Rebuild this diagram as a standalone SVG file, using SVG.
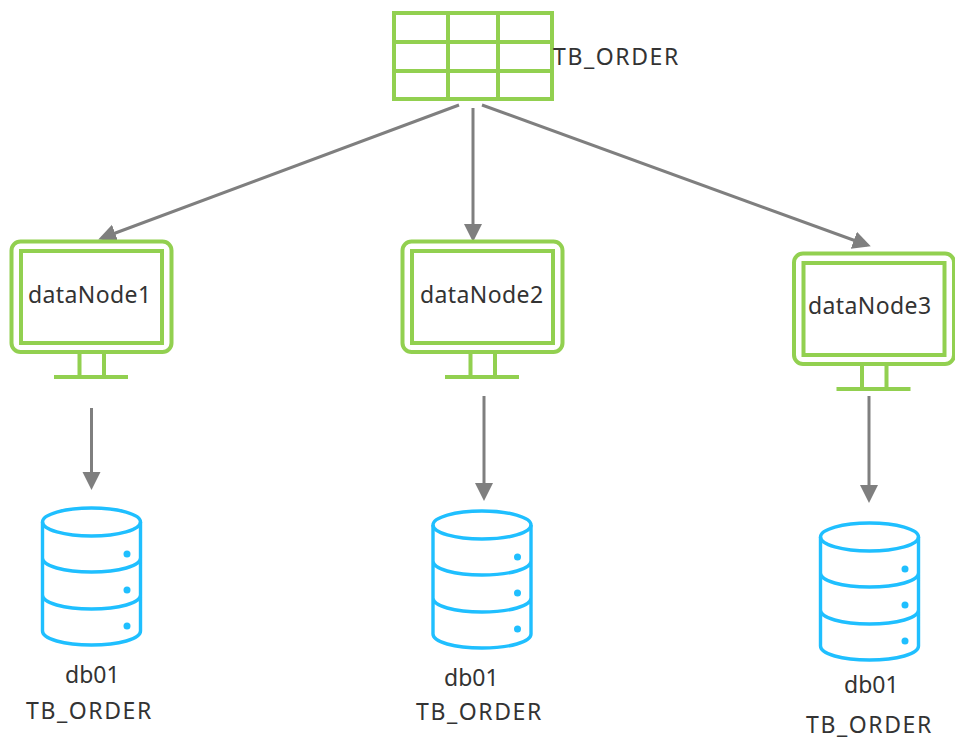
<svg xmlns="http://www.w3.org/2000/svg" width="955" height="740" viewBox="0 0 955 740">
<style>
.g{fill:none;stroke:#92d050;stroke-width:4}
.b{fill:none;stroke:#1fbfff;stroke-width:3.4}
.d{fill:#1fbfff}
.c{fill:none;stroke:#7f7f7f;stroke-width:3;marker-end:url(#a)}
text{font-family:"Noto Sans","Open Sans","Liberation Sans",sans-serif;font-size:23px;fill:#333}
.t{letter-spacing:1.6px}
.n{letter-spacing:.4px}
</style>
<defs>
<marker id="a" markerUnits="userSpaceOnUse" markerWidth="20" markerHeight="20" refX="14" refY="9" orient="auto"><path d="M0 0L18 9L0 18Z" fill="#7f7f7f"/></marker>
<g id="mon"><rect class="g" x="11.500" y="241.500" width="160" height="110.500" rx="9"/><rect class="g" x="21" y="251" width="141" height="92"/><path class="g" d="M79.500 353V377M104 353V377M54 377H128"/></g>
<g id="db"><ellipse class="b" cx="91.500" cy="522" rx="49" ry="14"/><path class="b" d="M42.500 522V631C42.500 639 64 645 91.500 645S140.500 639 140.500 631V522M42.500 558C42.500 566 64 572 91.500 572S140.500 566 140.500 558M42.500 595C42.500 603 64 609 91.500 609S140.500 603 140.500 595"/><circle class="d" cx="127" cy="554" r="3.500"/><circle class="d" cx="127" cy="590" r="3.500"/><circle class="d" cx="127" cy="626" r="3.500"/></g>
</defs>
<g id="connectors">
<path class="c" d="M459 105L102 238"/>
<path class="c" d="M473 108V238"/>
<path class="c" d="M482 105L867 245"/>
<path class="c" d="M91.500 408V486"/>
<path class="c" d="M484 396V497"/>
<path class="c" d="M869 396V499"/>
</g>
<g id="table"><rect class="g" x="394" y="13" width="158" height="86"/><path class="g" d="M448 13V99M498 13V99M394 42H552M394 71H552"/><text class="t" x="553" y="65">TB_ORDER</text></g>
<g id="dataNode1"><use href="#mon"/><text class="n" x="28" y="303">dataNode1</text></g>
<g id="dataNode2"><use href="#mon" x="391"/><text class="n" x="420" y="303">dataNode2</text></g>
<g id="dataNode3"><use href="#mon" x="782.500" y="12"/><text class="n" x="808" y="314">dataNode3</text></g>
<g id="db1"><use href="#db"/><text x="65" y="683">db01</text><text class="t" x="26" y="719">TB_ORDER</text></g>
<g id="db2"><use href="#db" x="390.500" y="3"/><text x="444" y="686">db01</text><text class="t" x="416" y="720">TB_ORDER</text></g>
<g id="db3"><use href="#db" x="778" y="15"/><text x="844" y="693">db01</text><text class="t" x="806" y="733">TB_ORDER</text></g>
</svg>
